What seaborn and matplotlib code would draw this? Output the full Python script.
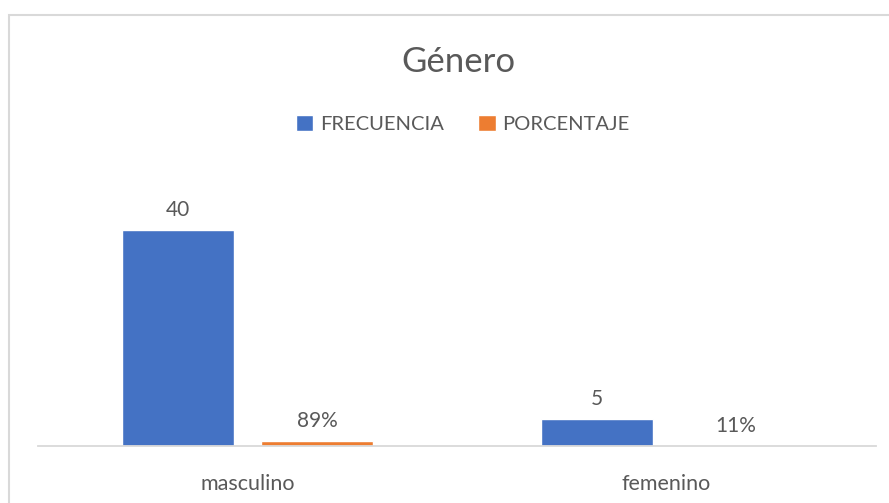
import pandas as pd
import matplotlib.pyplot as plt
import seaborn as sns
from matplotlib.patches import Rectangle

categorias = ["masculino", "femenino"]
frecuencia = [40, 5]
porcentaje = [0.89, 0.11]
series = ["FRECUENCIA", "PORCENTAJE"]
colores = ["#4472C4", "#ED7D31"]

df = pd.DataFrame({
    "Genero": categorias * 2,
    "Serie": [series[0]] * 2 + [series[1]] * 2,
    "Valor": frecuencia + porcentaje,
})

sns.set_style("white")
plt.rcParams["font.family"] = ["Lato", "DejaVu Sans"]
texto = "#595959"

fig = plt.figure(figsize=(8.89, 5.03), dpi=100)
ax = fig.add_axes([38 / 889, 57 / 503, (876 - 38) / 889, 286 / 503])

sns.barplot(data=df, x="Genero", y="Valor", hue="Serie", palette=colores,
            saturation=1, width=0.663, gap=0.2, ax=ax, legend=True)

ax.set_ylim(0, 286 / 5.4)
ax.set_xlim(-0.5, 1.5)

ax.bar_label(ax.containers[0], labels=[str(v) for v in frecuencia],
             padding=7, fontsize=15, color=texto)
ax.bar_label(ax.containers[1], labels=[f"{v:.0%}" for v in porcentaje],
             padding=7, fontsize=15, color=texto)

sns.despine(ax=ax, left=True, top=True, right=True)
ax.spines["bottom"].set_color("#d9d9d9")
ax.spines["bottom"].set_linewidth(1.3)
ax.set_yticks([])
ax.set_xlabel("")
ax.set_ylabel("")
ax.tick_params(axis="x", length=0, pad=20, labelsize=15.5, labelcolor=texto)

leg = ax.legend(loc="center", bbox_to_anchor=(463 / 889, 1 - 124 / 503),
                bbox_transform=fig.transFigure, ncol=2, frameon=False,
                fontsize=14.5, handlelength=0.85, handleheight=0.85,
                handletextpad=0.35, columnspacing=1.7)
for t in leg.get_texts():
    t.set_color(texto)

fig.text(458 / 889, 1 - 62 / 503, "Género", ha="center", va="center",
         fontsize=25, color=texto)

fig.patches.append(Rectangle((9 / 889, -0.1), 1.0, 1 - 15 / 503 + 0.1,
                             transform=fig.transFigure, fill=False,
                             edgecolor="#d9d9d9", linewidth=1.5))

fig.savefig("out.png", dpi=100, facecolor="white")
